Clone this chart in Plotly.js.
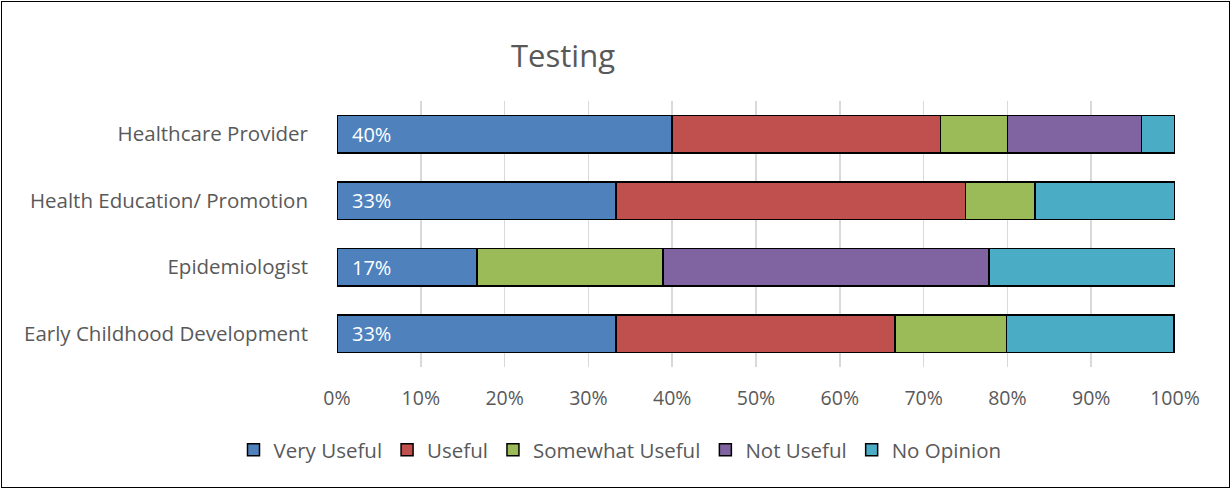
<!DOCTYPE html>
<html>
<head>
<meta charset="utf-8">
<script src="https://cdn.plot.ly/plotly-3.0.1.min.js"></script>
<style>
html,body{margin:0;padding:0;background:#fff;}
#wrap{position:absolute;left:1px;top:1px;width:1229px;height:487px;border:1.5px solid #000;box-sizing:border-box;pointer-events:none;}
#chart{position:absolute;left:0;top:0;width:1232px;height:490px;}
</style>
</head>
<body>
<div id="chart"></div>
<div id="wrap"></div>
<script>
const categories = ["Healthcare Provider", "Health Education/ Promotion", "Epidemiologist", "Early Childhood Development"];
const seriesNames = ["Very Useful", "Useful", "Somewhat Useful", "Not Useful", "No Opinion"];
const veryUseful = [40.0, 33.3, 16.7, 33.3];
const useful = [32.0, 41.7, 0.0, 33.3];
const somewhatUseful = [8.0, 8.3, 22.2, 13.3];
const notUseful = [16.0, 0.0, 38.9, 0.0];
const noOpinion = [4.0, 16.7, 22.2, 20.0];
const tickVals = [0,10,20,30,40,50,60,70,80,90,100];
const tickText = ["0%","10%","20%","30%","40%","50%","60%","70%","80%","90%","100%"];
const colors = ["#4F81BD", "#C0504D", "#9BBB59", "#8064A2", "#4BACC6"];

const seriesValues = [veryUseful, useful, somewhatUseful, notUseful, noOpinion];
const FONT = "Open Sans, Noto Sans, sans-serif";
const traces = seriesValues.map((vals, i) => ({
  type: "bar",
  orientation: "h",
  name: seriesNames[i],
  y: categories,
  x: vals,
  marker: {color: colors[i], line: {color: "#000", width: 1.5}},
  hoverinfo: "x+name"
}));

const annotations = categories.map((c, j) => ({
  x: 0, y: c, xref: "x", yref: "y",
  text: Math.round(veryUseful[j]) + "%",
  showarrow: false, xanchor: "left", xshift: 13,
  font: {family: FONT, size: 20, color: "#fff"}
}));

const layout = {
  width: 1232, height: 490,
  barmode: "stack",
  bargap: 0.43,
  paper_bgcolor: "#fff", plot_bgcolor: "#fff",
  margin: {l: 337, r: 57, t: 101, b: 123},
  title: {text: "Testing", font: {family: FONT, size: 31, color: "#595959"},
          x: 563/1232, xanchor: "center", xref: "container", y: 1 - 56/490, yanchor: "middle", yref: "container"},
  xaxis: {range: [0, 100], tickvals: tickVals, ticktext: tickText,
          showgrid: true, gridcolor: "#D9D9D9", gridwidth: 1.5, zeroline: false,
          showline: false, ticks: "", fixedrange: true, ticklabelstandoff: 17,
          tickfont: {family: FONT, size: 19.5, color: "#595959"}},
  yaxis: {categoryorder: "array", categoryarray: categories, autorange: "reversed",
          showgrid: false, zeroline: false, showline: false, ticks: "", ticklen: 0,
          ticklabelstandoff: 28,
          tickfont: {family: FONT, size: 20.5, color: "#595959"}, automargin: false},
  legend: {orientation: "h", x: 620/1232, xanchor: "center", xref: "container",
           y: 1 - 450/490, yanchor: "middle", yref: "container",
           font: {family: FONT, size: 20.5, color: "#595959"}, traceorder: "normal",
           itemwidth: 30},
  annotations: annotations,
  showlegend: true
};
Plotly.newPlot("chart", traces, layout, {displayModeBar: false, staticPlot: true});
</script>
</body>
</html>
